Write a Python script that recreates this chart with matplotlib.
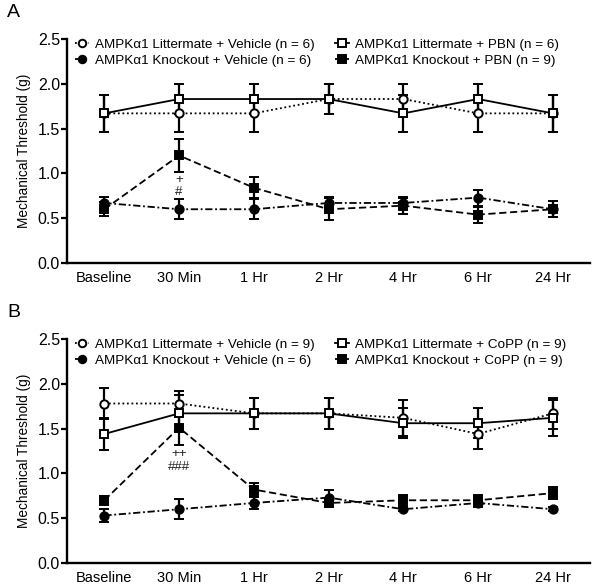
import matplotlib
matplotlib.use('Agg')
import matplotlib.pyplot as plt
import numpy as np

plt.rcParams['font.family'] = ['Liberation Sans', 'DejaVu Sans']

timepoints = ['Baseline', '30 Min', '1 Hr', '2 Hr', '4 Hr', '6 Hr', '24 Hr']

# panel A
a_lm_veh = [1.67, 1.67, 1.67, 1.83, 1.83, 1.67, 1.67]
a_lm_veh_err = [0.21, 0.21, 0.21, 0.17, 0.17, 0.21, 0.21]
a_lm_pbn = [1.67, 1.83, 1.83, 1.83, 1.67, 1.83, 1.67]
a_lm_pbn_err = [0.21, 0.17, 0.17, 0.17, 0.21, 0.17, 0.21]
a_ko_veh = [0.67, 0.60, 0.60, 0.67, 0.67, 0.73, 0.60]
a_ko_veh_err = [0.07, 0.11, 0.11, 0.07, 0.07, 0.09, 0.09]
a_ko_pbn = [0.60, 1.20, 0.84, 0.60, 0.64, 0.54, 0.60]
a_ko_pbn_err = [0.08, 0.18, 0.12, 0.12, 0.09, 0.09, 0.09]

# panel B
b_lm_veh = [1.78, 1.78, 1.67, 1.67, 1.62, 1.44, 1.67]
b_lm_veh_err = [0.17, 0.14, 0.17, 0.17, 0.20, 0.17, 0.17]
b_lm_copp = [1.44, 1.67, 1.67, 1.67, 1.56, 1.56, 1.62]
b_lm_copp_err = [0.18, 0.20, 0.17, 0.17, 0.17, 0.17, 0.20]
b_ko_veh = [0.53, 0.60, 0.67, 0.73, 0.60, 0.67, 0.60]
b_ko_veh_err = [0.07, 0.11, 0.07, 0.09, 0.02, 0.05, 0.02]
b_ko_copp = [0.70, 1.51, 0.82, 0.67, 0.70, 0.70, 0.78]
b_ko_copp_err = [0.05, 0.19, 0.07, 0.05, 0.06, 0.06, 0.07]

panels = [
    ('A', [0.1115, 0.5527, 0.8705, 0.381],
     [('AMPK\u03b11 Littermate + Vehicle (n = 6)', a_lm_veh, a_lm_veh_err, 'o', 'white', (0, (1, 1.5))),
      ('AMPK\u03b11 Knockout + Vehicle (n = 6)', a_ko_veh, a_ko_veh_err, 'o', 'black', (0, (4, 1.5, 1, 1.5))),
      ('AMPK\u03b11 Littermate + PBN (n = 6)', a_lm_pbn, a_lm_pbn_err, 's', 'white', '-'),
      ('AMPK\u03b11 Knockout + PBN (n = 9)', a_ko_pbn, a_ko_pbn_err, 's', 'black', (0, (4, 2)))],
     [('+', 0.93), ('#', 0.79)]),
    ('B', [0.1115, 0.0425, 0.8705, 0.381],
     [('AMPK\u03b11 Littermate + Vehicle (n = 9)', b_lm_veh, b_lm_veh_err, 'o', 'white', (0, (1, 1.5))),
      ('AMPK\u03b11 Knockout + Vehicle (n = 6)', b_ko_veh, b_ko_veh_err, 'o', 'black', (0, (4, 1.5, 1, 1.5))),
      ('AMPK\u03b11 Littermate + CoPP (n = 9)', b_lm_copp, b_lm_copp_err, 's', 'white', '-'),
      ('AMPK\u03b11 Knockout + CoPP (n = 9)', b_ko_copp, b_ko_copp_err, 's', 'black', (0, (4, 2)))],
     [('++', 1.22), ('###', 1.07)]),
]

fig = plt.figure(figsize=(6.01, 5.88), dpi=100)
x = np.arange(len(timepoints))

for letter, rect, series, notes in panels:
    ax = fig.add_axes(rect)
    for label, y, err, mk, fc, ls in series:
        ax.errorbar(x, y, yerr=err, marker=mk, markersize=6, markerfacecolor=fc,
                    markeredgecolor='black', markeredgewidth=1.4, color='black',
                    linestyle=ls, linewidth=1.3, elinewidth=1.6, capsize=3.5,
                    capthick=1.6, label=label)
    for txt, yv in notes:
        ax.text(1, yv, txt, ha='center', va='center', fontsize=9.5, color='#222222')
    ax.set_xlim(-0.5, 6.5)
    ax.set_ylim(0, 2.5)
    ax.set_yticks([0, 0.5, 1.0, 1.5, 2.0, 2.5])
    ax.set_yticklabels(['0.0', '0.5', '1.0', '1.5', '2.0', '2.5'], fontsize=11.5)
    ax.set_xticks(x)
    ax.set_xticklabels(timepoints, fontsize=10.5)
    ax.tick_params(axis='x', length=0, pad=6)
    ax.tick_params(axis='y', length=4, width=1.6, pad=1)
    ax.spines['top'].set_visible(False)
    ax.spines['right'].set_visible(False)
    ax.spines['left'].set_linewidth(1.7)
    ax.spines['bottom'].set_linewidth(1.7)
    ax.set_ylabel('Mechanical Threshold (g)', fontsize=9.8, labelpad=5)
    handles, labels = ax.get_legend_handles_labels()
    handles = [h[0] for h in handles]
    ax.legend(handles, labels, ncol=2, loc='upper left', bbox_to_anchor=(0.0, 1.04),
              frameon=False, fontsize=9.7, handlelength=1.0, handletextpad=0.5,
              columnspacing=1.5, labelspacing=0.3, borderaxespad=0.2, markerscale=0.9)
    fig.text(0.012, rect[1] + rect[3] + 0.045, letter, fontsize=14, ha='left', va='center')

fig.savefig('out.png', dpi=100)
